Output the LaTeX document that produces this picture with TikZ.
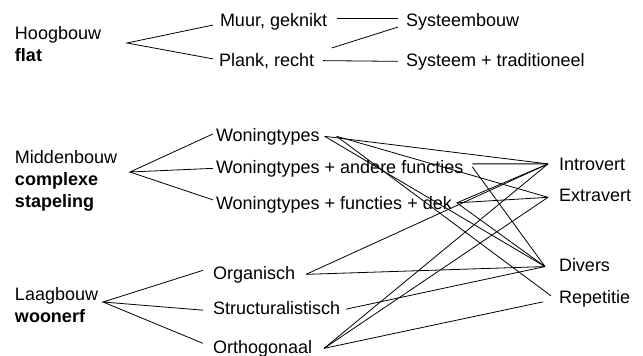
\documentclass[tikz,border=0pt]{standalone}
\usepackage{fontspec}
\setmainfont{Liberation Sans}
\begin{document}
\begin{tikzpicture}[x=1pt,y=-1pt,
  lbl/.style={inner sep=0pt,outer sep=0pt,anchor=base west,
              font=\fontsize{18pt}{22pt}\selectfont},
  bld/.style={lbl,font=\fontsize{18pt}{22pt}\selectfont\bfseries},
  link/.style={draw=black,line width=0.8pt}]
\useasboundingbox (0,0) rectangle (643,356);

% ---- Hoogbouw ----
\node[lbl] (hoog)  at (15,39) {Hoogbouw};
\node[bld] (flat)  at (15,61) {flat};
\coordinate (hoogfan) at (127,43);
\node[lbl] (muur)  at (220,26) {Muur, geknikt};
\node[lbl] (plank) at (219,66) {Plank, recht};
\node[lbl] (sysb)  at (406,26) {Systeembouw};
\node[lbl] (systr) at (406,66) {Systeem + traditioneel};

\draw[link] ([shift={(-7pt,-3.7pt)}]muur.west) -- (hoogfan)
            -- ([shift={(-6pt,1.75pt)}]plank.west);
\draw[link] ([shift={(10pt,3.3pt)}]muur.east) -- ([shift={(-8pt,3.3pt)}]sysb.west);
\draw[link] ([shift={(18pt,12.75pt)}]plank.east) -- ([shift={(-8pt,-5.7pt)}]sysb.west);
\draw[link] ([xshift=9pt]plank.east) -- ([xshift=-8pt]systr.west);

% ---- Middenbouw ----
\node[lbl] (midd)  at (15,163) {Middenbouw};
\node[bld] (compl) at (15,185) {complexe};
\node[bld] (stap)  at (15,207) {stapeling};
\coordinate (midfan) at (130,172);
\node[lbl] (w1) at (216,141) {Woningtypes};
\node[lbl] (w2) at (216,173) {Woningtypes + andere functies};
\node[lbl] (w3) at (216,209) {Woningtypes + functies + dek};

\draw[link] ([shift={(-3pt,2.45pt)}]w1.west) -- (midfan)
            -- ([xshift=-3pt]w2.west);
\draw[link] (midfan) -- ([shift={(-3pt,4.45pt)}]w3.west);

% ---- Laagbouw ----
\node[lbl] (laag)  at (15,300) {Laagbouw};
\node[bld] (woon)  at (15,322) {woonerf};
\coordinate (laagfan) at (103,302);
\node[lbl] (org)  at (213,279) {Organisch};
\node[lbl] (str)  at (213,314) {Structuralistisch};
\node[lbl] (orth) at (213,353) {Orthogonaal};

\draw[link] ([shift={(-10pt,4pt)}]org.west) -- (laagfan)
            -- ([shift={(-10pt,-2.6pt)}]str.west);
\draw[link] (laagfan) -- ([shift={(-10pt,5pt)}]orth.west);

% ---- Kenmerken ----
\node[lbl] (intro)  at (559,170) {Introvert};
\node[lbl] (extra)  at (559,201) {Extravert};
\node[lbl] (divers) at (559,271) {Divers};
\node[lbl] (rep)    at (559,303) {Repetitie};

\coordinate (iIn) at ([xshift=-11pt]intro.west);
\coordinate (eIn) at ([shift={(-11pt,-2.4pt)}]extra.west);
\coordinate (dIn) at ([shift={(-14pt,-2pt)}]divers.west);

% Woningtypes
\draw[link] ([xshift=5pt]w1.east) -- (iIn);
\draw[link] ([xshift=17pt]w1.east) -- (eIn);
\draw[link] ([xshift=5pt]w1.east) -- (dIn);
\draw[link] ([xshift=17pt]w1.east) -- ([shift={(-8pt,2.5pt)}]rep.west);
% Woningtypes + andere functies
\draw[link] ([shift={(9pt,4.45pt)}]w2.east) -- (iIn);
\draw[link] ([shift={(9pt,1.5pt)}]w2.east) -- (dIn);
% Woningtypes + functies + dek
\draw[link] ([shift={(5pt,1.5pt)}]w3.east) -- (iIn);
\draw[link] ([shift={(5pt,1.5pt)}]w3.east) -- (eIn);
\draw[link] ([shift={(5pt,1.5pt)}]w3.east) -- (dIn);
% Organisch
\draw[link] ([xshift=11pt]org.east) -- (iIn);
\draw[link] ([xshift=11pt]org.east) -- (dIn);
% Structuralistisch
\draw[link] ([shift={(6pt,-1.6pt)}]str.east) -- (dIn);
% Orthogonaal
\draw[link] ([xshift=12pt]orth.east) -- (iIn);
\draw[link] ([xshift=12pt]orth.east) -- (eIn);
\draw[link] ([xshift=12pt]orth.east) -- ([shift={(-16pt,-3.5pt)}]rep.west);
\end{tikzpicture}
\end{document}
